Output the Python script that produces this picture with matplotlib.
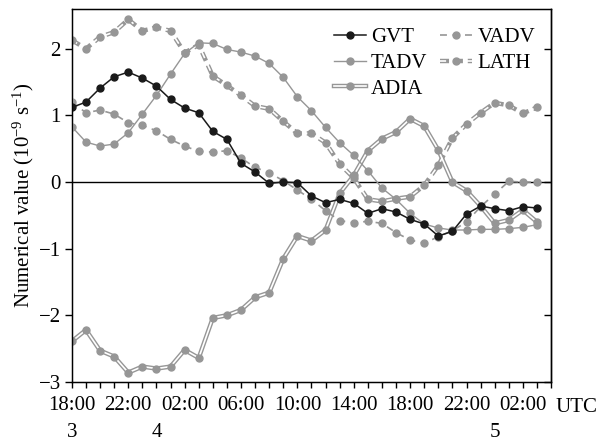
import matplotlib
matplotlib.use("Agg")
import matplotlib.pyplot as plt
import matplotlib.transforms as mtransforms
import numpy as np

plt.rcParams['font.family'] = ['Liberation Serif', 'DejaVu Serif']
plt.rcParams['mathtext.fontset'] = 'custom'
plt.rcParams['mathtext.rm'] = 'Liberation Serif'
plt.rcParams['mathtext.it'] = 'Liberation Serif:italic'
plt.rcParams['lines.scale_dashes'] = False

# hourly values starting 18:00 UTC on day 3
hours = list(range(34))
GVT = [1.12, 1.20, 1.41, 1.58, 1.65, 1.56, 1.44, 1.24, 1.11, 1.04, 0.76, 0.64, 0.28, 0.15,
       -0.02, 0.00, -0.01, -0.21, -0.31, -0.26, -0.32, -0.47, -0.40, -0.45, -0.56, -0.63,
       -0.81, -0.74, -0.48, -0.36, -0.40, -0.43, -0.37, -0.39]
TADV = [0.83, 0.60, 0.54, 0.57, 0.74, 1.02, 1.30, 1.62, 1.93, 2.09, 2.08, 1.99, 1.95, 1.89,
        1.78, 1.57, 1.28, 1.07, 0.82, 0.59, 0.40, 0.17, -0.09, -0.26, -0.47, -0.63, -0.69,
        -0.72, -0.72, -0.71, -0.71, -0.70, -0.68, -0.64]
VADV = [1.20, 1.04, 1.08, 1.02, 0.89, 0.85, 0.77, 0.64, 0.54, 0.46, 0.45, 0.47, 0.36, 0.22,
        0.14, 0.02, -0.12, -0.26, -0.43, -0.58, -0.61, -0.59, -0.62, -0.76, -0.87, -0.92,
        -0.82, -0.73, -0.60, -0.37, -0.18, 0.01, 0.00, 0.00]
LATH = [2.13, 2.00, 2.18, 2.25, 2.44, 2.27, 2.32, 2.27, 1.94, 2.06, 1.59, 1.45, 1.30, 1.14,
        1.10, 0.91, 0.73, 0.73, 0.59, 0.27, 0.06, -0.26, -0.29, -0.25, -0.22, -0.05, 0.25,
        0.66, 0.87, 1.04, 1.19, 1.15, 1.03, 1.12]
ADIA = [-2.39, -2.22, -2.53, -2.62, -2.86, -2.77, -2.80, -2.77, -2.52, -2.64, -2.04, -2.00,
        -1.92, -1.73, -1.66, -1.15, -0.81, -0.88, -0.72, -0.17, 0.10, 0.47, 0.65, 0.75, 0.95,
        0.84, 0.48, 0.00, -0.13, -0.36, -0.62, -0.57, -0.42, -0.60]

tick_pos = [0, 4, 8, 12, 16, 20, 24, 28, 32]
tick_labels = ["18:00", "22:00", "02:00", "06:00", "10:00", "14:00", "18:00", "22:00", "02:00"]
day_pos = [0, 6, 30]
day_labels = ["3", "4", "5"]

GRAY = '#969696'
BLACK = '#1a1a1a'
FS = 15
MS = 5

fig = plt.figure(figsize=(5.99, 4.41), dpi=100)
ax = fig.add_axes([0.120, 0.134, 0.800, 0.846])

ax.axhline(0, color='black', lw=1.0, zorder=1)

# ADIA: double solid line
a_out, = ax.plot(hours, ADIA, color=GRAY, lw=3.2, zorder=2, solid_joinstyle='miter')
a_in, = ax.plot(hours, ADIA, color='white', lw=1.2, zorder=2.1, solid_joinstyle='miter')
a_mk, = ax.plot(hours, ADIA, ls='none', marker='o', ms=MS, color=GRAY, zorder=2.2)

# LATH: double dashed line
l_out, = ax.plot(hours, LATH, color=GRAY, lw=3.2, dashes=(6.5, 3.5), zorder=2)
l_in, = ax.plot(hours, LATH, color='white', lw=1.2, linestyle=(0.7, (5.1, 4.9)), zorder=2.1)
l_mk, = ax.plot(hours, LATH, ls='none', marker='o', ms=MS, color=GRAY, zorder=2.2)

# VADV: dashed
v_ln, = ax.plot(hours, VADV, color=GRAY, lw=1.2, dashes=(5, 4), marker='o', ms=MS,
                zorder=3)
# TADV: thin solid
t_ln, = ax.plot(hours, TADV, color=GRAY, lw=1.0, marker='o', ms=MS, zorder=3)
# GVT: black
g_ln, = ax.plot(hours, GVT, color=BLACK, lw=1.1, marker='o', ms=MS, zorder=4)

ax.set_xlim(0, 34)
ax.set_ylim(-3, 2.6)
ax.set_xticks(tick_pos)
ax.set_xticklabels(tick_labels)
ax.set_xticks(range(35), minor=True)
ax.set_yticks([-3, -2, -1, 0, 1, 2])
ax.set_yticklabels(['\u22123', '\u22122', '\u22121', '0', '1', '2'])

ax.tick_params(axis='x', which='both', direction='out', length=4, width=1,
               labelsize=FS, pad=6.5, top=False)
ax.tick_params(axis='y', which='both', direction='out', length=5, width=1,
               labelsize=FS, pad=3)
for s in ax.spines.values():
    s.set_linewidth(1.0)

# inward ticks on right spine
ax2 = ax.twinx()
ax2.set_ylim(ax.get_ylim())
ax2.set_yticks([-3, -2, -1, 0, 1, 2])
ax2.tick_params(axis='y', direction='in', length=5, width=1, labelright=False)
ax2.spines['right'].set_linewidth(1.0)

trans = mtransforms.blended_transform_factory(ax.transData, ax.transAxes)
for p, lab in zip(day_pos, day_labels):
    ax.text(p, -0.136, lab, transform=trans, ha='center', va='center', fontsize=FS)
ax.text(1.052, -0.068, 'UTC', transform=ax.transAxes, ha='center', va='center', fontsize=FS)

ax.set_ylabel(r'Numerical value (10$^{-9}$ s$^{-1}$)', fontsize=FS, labelpad=2)

handles = [g_ln, t_ln, (a_out, a_in, a_mk), v_ln, (l_out, l_in, l_mk)]
labels = ['GVT', 'TADV', 'ADIA', 'VADV', 'LATH']
leg = ax.legend(handles, labels, ncol=2, loc='upper right', bbox_to_anchor=(0.967, 0.950),
                frameon=False, fontsize=FS, numpoints=1, handlelength=1.55,
                handletextpad=0.25, columnspacing=0.6, labelspacing=0.3,
                borderpad=0, borderaxespad=0)

fig.savefig('out.png', dpi=100)
